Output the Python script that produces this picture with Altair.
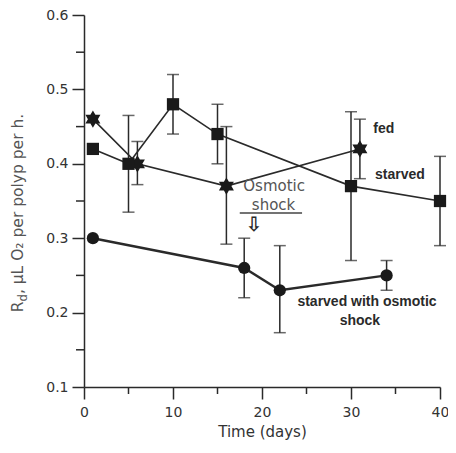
import math
import altair as alt
import pandas as pd

# ---------------- data ----------------
fed_x = [1, 6, 16, 31]
fed_y = [0.46, 0.40, 0.37, 0.42]
fed_lo = [None, 0.372, 0.292, 0.38]
fed_hi = [None, 0.43, 0.45, 0.46]

starved_x = [1, 5, 10, 15, 30, 40]
starved_y = [0.42, 0.40, 0.48, 0.44, 0.37, 0.35]
starved_lo = [None, 0.335, 0.44, 0.40, 0.27, 0.29]
starved_hi = [None, 0.465, 0.52, 0.48, 0.47, 0.41]

osm_x = [1, 18, 22, 34]
osm_y = [0.30, 0.26, 0.23, 0.25]
osm_lo = [None, 0.22, 0.173, 0.23]
osm_hi = [None, 0.30, 0.29, 0.27]

x_major = [0, 10, 20, 30, 40]
x_minor = [5, 15, 25, 35]
y_major = [0.1, 0.2, 0.3, 0.4, 0.5, 0.6]
y_minor = [0.15, 0.25, 0.35, 0.45, 0.55]

labels_bold = ["fed", "starved", "starved with osmotic", "shock"]
labels_bold_x = [32.5, 32.7, 31.8, 31.0]
labels_bold_y = [0.447, 0.385, 0.214, 0.189]
labels_bold_align = ["left", "left", "center", "center"]

shock_text = ["Osmotic", "shock"]
shock_text_x = [17.9, 21.3]
shock_text_y = [0.370, 0.344]
shock_line_x = [17.5, 24.5]
shock_line_y = 0.334
arrow_x = [19.1]
arrow_y = [0.318]

# y title pieces: (text, is_subscript)
ytitle_parts = [("R", False), ("d", True), (", µL O₂ per polyp per h.", False)]

# ---------------- frames ----------------
def frame(xs, ys, lo, hi):
    return pd.DataFrame({"x": xs, "y": ys, "lo": lo, "hi": hi})

fed = frame(fed_x, fed_y, fed_lo, fed_hi)
starved = frame(starved_x, starved_y, starved_lo, starved_hi)
osm = frame(osm_x, osm_y, osm_lo, osm_hi)
err = pd.concat([fed, starved, osm]).dropna()

INK = "#2a2a2a"
AXIS_FONT = "DejaVu Sans"
W, H = 356, 372

# six-pointed star path
pts = []
for k in range(12):
    ang = math.radians(-90 + 30 * k)
    r = 1.0 if k % 2 == 0 else 0.577
    pts.append((r * math.cos(ang), r * math.sin(ang)))
star_path = "M" + " L".join(f"{px:.3f},{py:.3f}" for px, py in pts) + " Z"

xscale = alt.Scale(domain=[0, 40], nice=False, zero=False)
yscale = alt.Scale(domain=[0.1, 0.6], nice=False, zero=False)

x_axis = alt.Axis(
    values=x_major,
    title="Time (days)",
    tickSize=12,
    labelPadding=6,
    titlePadding=5,
    labelFlush=False,
)
y_axis = alt.Axis(
    values=y_major,
    format=".1f",
    title=None,
    tickSize=12,
    labelPadding=4,
)

X = alt.X("x:Q", scale=xscale, axis=x_axis)
Y = alt.Y("y:Q", scale=yscale, axis=y_axis)

def line(df, width):
    return alt.Chart(df).mark_line(color=INK, strokeWidth=width).encode(x=X, y=Y)

rules = alt.Chart(err).mark_rule(color=INK, strokeWidth=1.5).encode(
    x=X, y=alt.Y("lo:Q", scale=yscale, axis=y_axis), y2="hi:Q"
)
cap_lo = alt.Chart(err).mark_tick(orient="horizontal", size=12, thickness=1.5, color=INK).encode(
    x=X, y=alt.Y("lo:Q", scale=yscale, axis=y_axis)
)
cap_hi = alt.Chart(err).mark_tick(orient="horizontal", size=12, thickness=1.5, color=INK).encode(
    x=X, y=alt.Y("hi:Q", scale=yscale, axis=y_axis)
)

# minor ticks
ymin_df = pd.DataFrame({"y": y_minor})
ymin = alt.Chart(ymin_df).mark_rule(color=INK, strokeWidth=1.5).encode(
    x=alt.value(-8), x2=alt.value(0), y=Y
)
xmin_df = pd.DataFrame({"x": x_minor})
xmin = alt.Chart(xmin_df).mark_rule(color=INK, strokeWidth=1.5).encode(
    x=X, y=alt.value(H), y2=alt.value(H + 7)
)

pt_fed = alt.Chart(fed).mark_point(shape=star_path, size=300, filled=True, color="#1a1a1a", opacity=1).encode(x=X, y=Y)
pt_starved = alt.Chart(starved).mark_point(shape="square", size=150, filled=True, color="#1a1a1a", opacity=1).encode(x=X, y=Y)
pt_osm = alt.Chart(osm).mark_point(shape="circle", size=150, filled=True, color="#1a1a1a", opacity=1).encode(x=X, y=Y)

lbl_df = pd.DataFrame({"x": labels_bold_x, "y": labels_bold_y, "t": labels_bold, "a": labels_bold_align})
lbl_left = alt.Chart(lbl_df[lbl_df.a == "left"]).mark_text(
    align="left", baseline="middle", font="Liberation Sans", fontWeight="bold", fontSize=14, color=INK
).encode(x=X, y=Y, text="t:N")
lbl_center = alt.Chart(lbl_df[lbl_df.a == "center"]).mark_text(
    align="center", baseline="middle", font="Liberation Sans", fontWeight="bold", fontSize=14, color=INK
).encode(x=X, y=Y, text="t:N")

shock_df2 = pd.DataFrame({"x": [shock_text_x[0]], "y": [shock_text_y[0]], "t": [shock_text[0]]})
shock_lbl1 = alt.Chart(shock_df2).mark_text(
    align="left", baseline="middle", font=AXIS_FONT, fontSize=15, color="#555555"
).encode(x=X, y=Y, text="t:N")
shock_df3 = pd.DataFrame({"x": [shock_text_x[1]], "y": [shock_text_y[1]], "t": [shock_text[1]]})
shock_lbl2 = alt.Chart(shock_df3).mark_text(
    align="center", baseline="middle", font=AXIS_FONT, fontSize=15, color="#555555"
).encode(x=X, y=Y, text="t:N")

uline_df = pd.DataFrame({"x": [shock_line_x[0]], "x2": [shock_line_x[1]], "y": [shock_line_y]})
uline = alt.Chart(uline_df).mark_rule(color="#444444", strokeWidth=1.5).encode(x=X, x2="x2:Q", y=Y)

arrow_df = pd.DataFrame({"x": arrow_x, "y": arrow_y, "t": ["⇩"]})
arrow = alt.Chart(arrow_df).mark_text(
    align="center", baseline="middle", font=AXIS_FONT, fontSize=20, fontWeight="bold", color=INK
).encode(x=X, y=Y, text="t:N")

# ---------------- rotated y title with subscript d ----------------
DV = {"R": .695, "d": .635, ",": .318, " ": .318, "µ": .636, "L": .557, "O": .787, "₂": .40,
      "p": .635, "e": .615, "r": .411, "o": .612, "l": .278, "y": .592, "h": .634, ".": .318}
TFS = 15.5
SFS = 11.5
tw = sum(sum(DV.get(c, .6) for c in t) * (SFS if s else TFS) for t, s in ytitle_parts)
ystart = H / 2 + 12 + tw / 2
base_x = -61
title_layers = []
pos = ystart
for t, s in ytitle_parts:
    fs = SFS if s else TFS
    tdf = pd.DataFrame({"t": [t]})
    title_layers.append(
        alt.Chart(tdf).mark_text(
            align="left", baseline="alphabetic", angle=270, font=AXIS_FONT, fontSize=fs, color="#555555"
        ).encode(text="t:N", x=alt.value(base_x + (4 if s else 0)), y=alt.value(pos))
    )
    pos -= sum(DV.get(c, .6) for c in t) * fs

chart = alt.layer(
    rules, cap_lo, cap_hi, ymin, xmin,
    line(fed, 1.6), line(starved, 1.6), line(osm, 2.4),
    pt_fed, pt_starved, pt_osm,
    lbl_left, lbl_center, shock_lbl1, shock_lbl2, uline, arrow,
    *title_layers,
).properties(
    width=W, height=H,
    autosize=alt.AutoSizeParams(type="none"),
    padding={"left": 76, "top": 7, "right": 8, "bottom": 58},
).configure_view(stroke=None).configure_axis(
    grid=False,
    domainColor=INK, domainWidth=1.5,
    tickColor=INK, tickWidth=1.5,
    labelFont=AXIS_FONT, labelFontSize=14, labelColor="#333333",
    titleFont=AXIS_FONT, titleFontSize=15, titleFontWeight="normal", titleColor="#333333",
)

chart.save("out.html", embed_options={"renderer": "svg", "actions": False})
